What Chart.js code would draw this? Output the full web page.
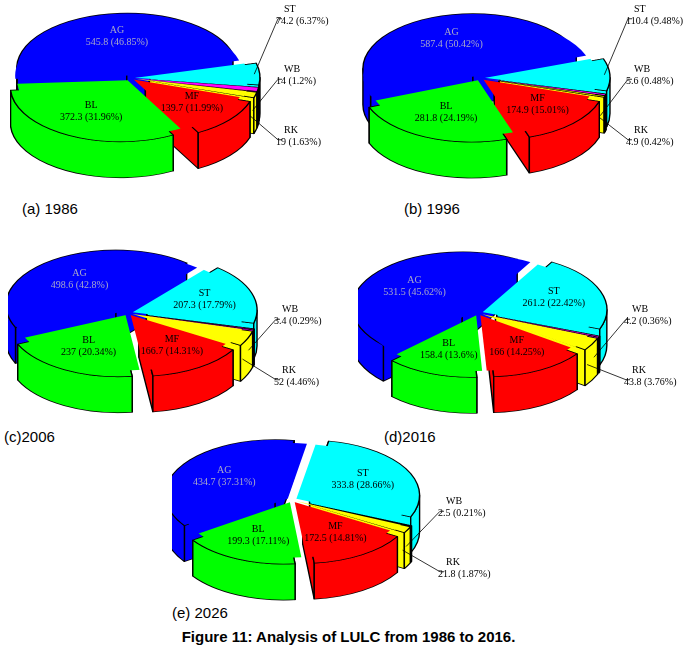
<!DOCTYPE html>
<html><head><meta charset="utf-8">
<script src="https://cdn.jsdelivr.net/npm/chart.js@4.4.0/dist/chart.umd.min.js"></script>
<style>
body{margin:0;background:#fff;width:697px;height:658px;position:relative;overflow:hidden;font-family:Arial,"Liberation Sans",sans-serif}
.box{position:absolute;transform-origin:0 0}
.ov{position:absolute;pointer-events:none}
.cap{position:absolute;font-size:15px;color:#000}
#title{position:absolute;left:0;width:697px;top:628px;text-align:center;font-weight:bold;font-size:15px}
</style></head><body>
<div class="cap" style="left:22px;top:200px">(a) 1986</div>
<div class="cap" style="left:404px;top:200px">(b) 1996</div>
<div class="cap" style="left:4px;top:428px">(c)2006</div>
<div class="cap" style="left:384px;top:428px">(d)2016</div>
<div class="cap" style="left:172px;top:604px">(e) 2026</div>
<div id="title">Figure 11: Analysis of LULC from 1986 to 2016.</div>
<script>
const classes = ['ST', 'WB', 'RK', 'MF', 'BL', 'AG'];
const colors = ['#00ffff', '#ff00ff', '#ffff00', '#ff0000', '#00ff00', '#0000ff'];
const years = ['1986', '1996', '2006', '2016', '2026'];
const area1986 = [74.2, 14, 19, 139.7, 372.3, 545.8];
const area1996 = [110.4, 5.6, 4.9, 174.9, 281.8, 587.4];
const area2006 = [207.3, 3.4, 52, 166.7, 237, 498.6];
const area2016 = [261.2, 4.2, 43.8, 166, 158.4, 531.5];
const area2026 = [333.8, 2.5, 21.8, 172.5, 199.3, 434.7];
const pct1986 = ['6.37', '1.2', '1.63', '11.99', '31.96', '46.85'];
const pct1996 = ['9.48', '0.48', '0.42', '15.01', '24.19', '50.42'];
const pct2006 = ['17.79', '0.29', '4.46', '14.31', '20.34', '42.8'];
const pct2016 = ['22.42', '0.36', '3.76', '14.25', '13.6', '45.62'];
const pct2026 = ['28.66', '0.21', '1.87', '14.81', '17.11', '37.31'];
const areas = [area1986, area1996, area2006, area2016, area2026];
const pcts = [pct1986, pct1996, pct2006, pct2016, pct2026];
const rotations = [75, 70, 40, 30, 10];

// panel boxes: left, top, width, displayed height
const panels = [[10, 0, 330, 192], [360, 0, 330, 192], [8, 240, 330, 182], [358, 240, 330, 182], [172, 432, 330, 172]];
const SQ = 0.5;
const DEPTH = 72;

function sliceGeom(arc) {
    const p = arc.getProps(['x', 'y', 'startAngle', 'endAngle', 'outerRadius']);
    const mid = (p.startAngle + p.endAngle) / 2;
    const off = arc.options.offset;
    return { cx: p.x + Math.cos(mid) * off, cy: p.y + Math.sin(mid) * off, r: p.outerRadius, a0: p.startAngle, a1: p.endAngle, mid };
}

const depthPlugin = {
    id: 'depth',
    beforeDatasetsDraw(chart) {
        const ctx = chart.ctx;
        const meta = chart.getDatasetMeta(0);
        const order = meta.data.map((arc, i) => ({ g: sliceGeom(arc), i }))
            .sort((a, b) => Math.sin(a.g.mid) - Math.sin(b.g.mid));
        ctx.save();
        ctx.strokeStyle = '#000';
        ctx.lineWidth = 1.4;
        ctx.lineJoin = 'round';
        order.forEach(({ g, i }) => {
            ctx.fillStyle = colors[i];
            // radial walls
            for (const a of [g.a0, g.a1]) {
                const ex = g.cx + Math.cos(a) * g.r, ey = g.cy + Math.sin(a) * g.r;
                ctx.beginPath();
                ctx.moveTo(g.cx, g.cy);
                ctx.lineTo(ex, ey);
                ctx.lineTo(ex, ey + DEPTH);
                ctx.lineTo(g.cx, g.cy + DEPTH);
                ctx.closePath();
                ctx.fill();
                ctx.stroke();
            }
            // outer wall, front half only
            for (let k = -1; k <= 2; k++) {
                const lo = Math.max(g.a0, k * 2 * Math.PI), hi = Math.min(g.a1, k * 2 * Math.PI + Math.PI);
                if (hi <= lo) continue;
                ctx.beginPath();
                ctx.arc(g.cx, g.cy, g.r, lo, hi);
                ctx.arc(g.cx, g.cy + DEPTH, g.r, hi, lo, true);
                ctx.closePath();
                ctx.fill();
                ctx.stroke();
            }
            // top face
            ctx.beginPath();
            ctx.moveTo(g.cx, g.cy);
            ctx.arc(g.cx, g.cy, g.r, g.a0, g.a1);
            ctx.closePath();
            ctx.fill();
            ctx.stroke();
        });
        ctx.restore();
    }
};

const labelPlugin = {
    id: 'sliceLabels',
    afterDatasetsDraw(chart) {
        const k = chart.options.plugins.sliceLabels.idx;
        const ov = document.getElementById('ov' + k);
        const ctx = ov.getContext('2d');
        ctx.clearRect(0, 0, ov.width, ov.height);
        const meta = chart.getDatasetMeta(0);
        ctx.font = '10px "Liberation Serif", serif';
        ctx.strokeStyle = '#000';
        ctx.lineWidth = 0.8;
        const total = areas[k].reduce((a, b) => a + b, 0);
        const ca = chart.chartArea;
        meta.data.forEach((arc, i) => {
            const g = sliceGeom(arc);
            const val = areas[k][i] + ' (' + pcts[k][i] + '%)';
            const frac = areas[k][i] / total;
            if (frac > 0.1) {
                const r = g.r * 0.55;
                const x = g.cx + Math.cos(g.mid) * r, y = (g.cy + Math.sin(g.mid) * r) * SQ;
                ctx.fillStyle = i === 5 ? '#a8a8c8' : '#000';
                ctx.textAlign = 'center';
                ctx.fillText(classes[i], x, y - 5);
                ctx.fillText(val, x, y + 7);
            } else {
                ctx.fillStyle = '#000';
                const x0 = g.cx + Math.cos(g.mid) * g.r * 0.95, y0 = (g.cy + Math.sin(g.mid) * g.r * 0.95 + (i === 0 ? 0 : DEPTH * 0.6)) * SQ;
                const cy = (ca.top + g.r) * SQ, ry = g.r * SQ;
                const tx = (ca.left + ca.right) / 2 + g.r + 44;
                const ty = i === 0 ? cy - ry * 0.75 : (i === 1 ? cy + ry * 0.35 : cy + ry * 1.45);
                ctx.beginPath();
                ctx.moveTo(x0, y0);
                ctx.lineTo(tx - 6, ty + 3);
                ctx.lineTo(tx - 2, ty + 3);
                ctx.stroke();
                ctx.textAlign = 'left';
                ctx.fillText(classes[i], tx, ty - 4);
                ctx.fillText(val, tx - 8, ty + 8);
            }
        });
    }
};

areas.forEach((data, k) => {
    const [l, t, w, h] = panels[k];
    const box = document.createElement('div');
    box.className = 'box';
    box.style.cssText = `left:${l}px;top:${t}px;width:${w}px;height:${h / SQ}px;transform:scaleY(${SQ})`;
    const cv = document.createElement('canvas');
    cv.id = 'c' + k;
    box.appendChild(cv);
    document.body.appendChild(box);
    const ov = document.createElement('canvas');
    ov.id = 'ov' + k;
    ov.className = 'ov';
    ov.width = w + 30;
    ov.height = h;
    ov.style.cssText = `left:${l}px;top:${t}px;width:${w + 30}px;height:${h}px`;
    document.body.appendChild(ov);

    new Chart(cv, {
        type: 'pie',
        data: {
            labels: classes,
            datasets: [{
                data: data,
                backgroundColor: colors,
                borderColor: '#000',
                borderWidth: 0,
                offset: 20
            }]
        },
        options: {
            responsive: true,
            maintainAspectRatio: false,
            animation: false,
            rotation: rotations[k],
            layout: { padding: { left: 0, right: 90, top: 4, bottom: DEPTH + 4 } },
            plugins: {
                legend: { display: false },
                tooltip: { enabled: false },
                sliceLabels: { idx: k }
            }
        },
        plugins: [depthPlugin, labelPlugin]
    });
});
</script>
</body></html>
